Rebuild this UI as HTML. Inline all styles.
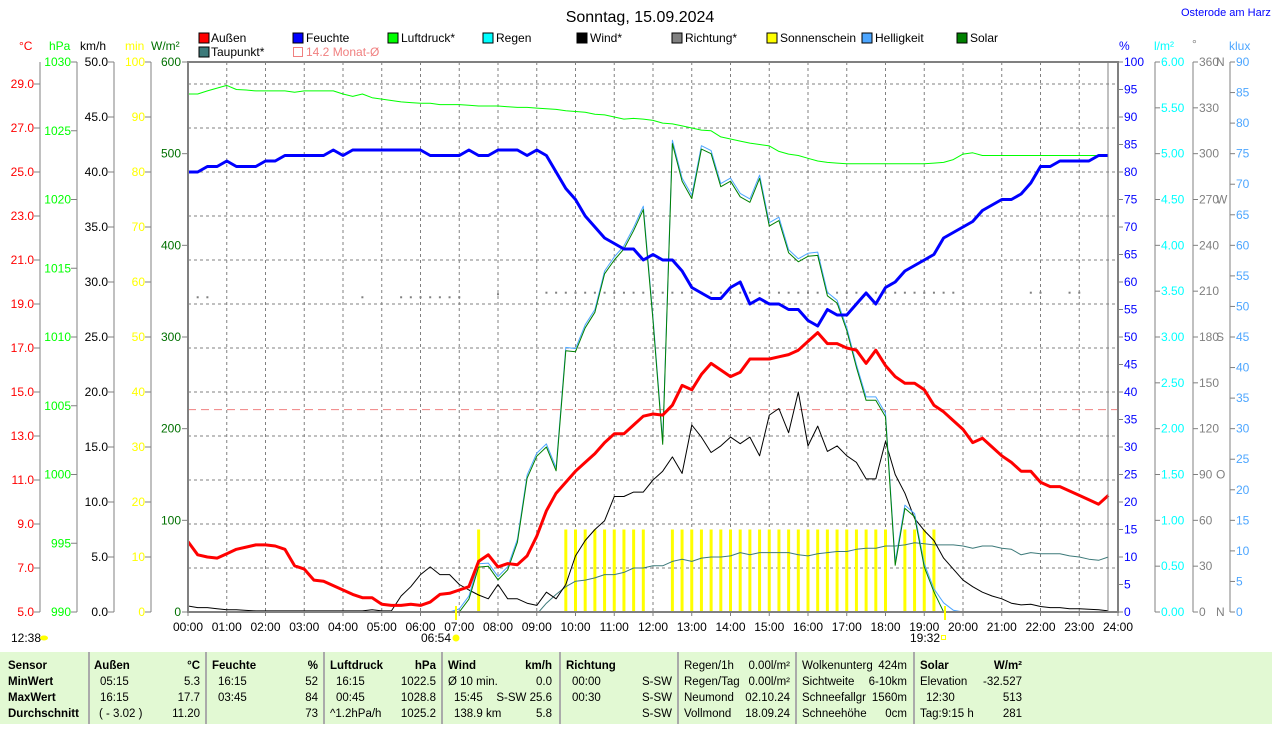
<!DOCTYPE html>
<html><head><meta charset="utf-8">
<style>
html,body{margin:0;padding:0;background:#fff;}
body{width:1274px;height:724px;overflow:hidden;font-family:"Liberation Sans",Arial,sans-serif;}
svg text{font-family:"Liberation Sans",Arial,sans-serif;}
</style></head>
<body>
<svg id="chart" width="1274" height="724" viewBox="0 0 1274 724" xmlns="http://www.w3.org/2000/svg">
  <rect x="0" y="0" width="1274" height="724" fill="#fff"/>
  <text x="640" y="22" font-size="16" text-anchor="middle" fill="#000">Sonntag, 15.09.2024</text>
  <text x="1181" y="16" font-size="11" fill="#0000ff">Osterode am Harz</text>

  <g font-size="12">
    <g><rect x="199" y="33" width="10" height="10" fill="#ff0000" stroke="#000"/><text x="211" y="42">Außen</text></g>
    <g><rect x="293" y="33" width="10" height="10" fill="#0000ff" stroke="#000"/><text x="306" y="42">Feuchte</text></g>
    <g><rect x="388" y="33" width="10" height="10" fill="#00ff00" stroke="#000"/><text x="401" y="42">Luftdruck*</text></g>
    <g><rect x="483" y="33" width="10" height="10" fill="#00ffff" stroke="#000"/><text x="496" y="42">Regen</text></g>
    <g><rect x="577" y="33" width="10" height="10" fill="#000" stroke="#000"/><text x="590" y="42">Wind*</text></g>
    <g><rect x="672" y="33" width="10" height="10" fill="#808080" stroke="#000"/><text x="685" y="42">Richtung*</text></g>
    <g><rect x="767" y="33" width="10" height="10" fill="#ffff00" stroke="#000"/><text x="780" y="42">Sonnenschein</text></g>
    <g><rect x="862" y="33" width="10" height="10" fill="#4da6ff" stroke="#000"/><text x="875" y="42">Helligkeit</text></g>
    <g><rect x="957" y="33" width="10" height="10" fill="#008000" stroke="#000"/><text x="970" y="42">Solar</text></g>
    <g><rect x="199" y="47" width="10" height="10" fill="#3d7a7a" stroke="#000"/><text x="211" y="56">Taupunkt*</text></g>
    <g><rect x="293.5" y="47.5" width="9" height="9" fill="none" stroke="#f08080"/><text x="306" y="56" fill="#f08080">14.2 Monat-Ø</text></g>
  </g>

  <g font-size="12">
    <text x="19" y="50" fill="#ff0000">°C</text>
    <text x="49" y="50" fill="#00ff00">hPa</text>
    <text x="80" y="50" fill="#000">km/h</text>
    <text x="125" y="50" fill="#ffff00">min</text>
    <text x="151" y="50" fill="#007000">W/m²</text>
    <text x="1119" y="50" fill="#0000ff">%</text>
    <text x="1154" y="50" fill="#00ffff">l/m²</text>
    <text x="1192" y="48" fill="#808080">°</text>
    <text x="1229" y="50" fill="#4da6ff">klux</text>
  </g>

  <g id="grid"></g>
  <g id="axes" font-size="12"></g>
  <g id="series"></g>

  <rect x="188" y="62" width="930" height="550" fill="none" stroke="#808080" stroke-width="2"/>
  <line x1="1108" y1="62" x2="1108" y2="612" stroke="#808080" stroke-width="1"/>

  <g font-size="12">
    <text x="11" y="642">12:38</text>
    <ellipse cx="44" cy="638" rx="4" ry="2.5" fill="#ffff00"/>
    <text x="421" y="642">06:54</text>
    <circle cx="456" cy="638" r="3.5" fill="#ffff00"/>
    <line x1="456" y1="606" x2="456" y2="620" stroke="#ffff00" stroke-width="2"/>
    <text x="910" y="642">19:32</text>
    <rect x="941.5" y="635.5" width="4" height="4" fill="none" stroke="#ffff00"/>
    <line x1="945" y1="606" x2="945" y2="620" stroke="#ffff00" stroke-width="2"/>
  </g>
</svg>

<div style="position:absolute;left:0;top:652px;width:1272px;height:72px;background:#e2f9d3;font-size:11.5px;">
  <div style="position:absolute;left:88px;top:0;width:2px;height:72px;background:#aaa"></div>
  <div style="position:absolute;left:205px;top:0;width:2px;height:72px;background:#aaa"></div>
  <div style="position:absolute;left:323px;top:0;width:2px;height:72px;background:#aaa"></div>
  <div style="position:absolute;left:441px;top:0;width:2px;height:72px;background:#aaa"></div>
  <div style="position:absolute;left:559px;top:0;width:2px;height:72px;background:#aaa"></div>
  <div style="position:absolute;left:677px;top:0;width:2px;height:72px;background:#aaa"></div>
  <div style="position:absolute;left:795px;top:0;width:2px;height:72px;background:#aaa"></div>
  <div style="position:absolute;left:913px;top:0;width:2px;height:72px;background:#aaa"></div>
  <div id="tbl"></div>
</div>

<script>
// ---- data (15-minute steps, 00:00 .. 23:45) ----
const hourLabels = ["00:00","01:00","02:00","03:00","04:00","05:00","06:00","07:00","08:00","09:00","10:00","11:00","12:00","13:00","14:00","15:00","16:00","17:00","18:00","19:00","20:00","21:00","22:00","23:00","24:00"];
const tempC = [8.2,7.6,7.5,7.45,7.65,7.85,7.95,8.05,8.05,8.0,7.85,7.1,
6.95,6.45,6.4,6.2,6.0,5.8,5.65,5.65,5.35,5.3,5.3,5.35,
5.3,5.45,5.8,5.85,6.0,6.15,7.3,7.6,7.05,7.2,7.15,7.55,
8.45,9.6,10.4,10.9,11.4,11.8,12.2,12.7,13.1,13.1,13.5,13.9,
14.0,13.95,14.4,15.3,15.1,15.8,16.3,16.0,15.7,15.9,16.5,16.5,
16.5,16.6,16.7,16.9,17.3,17.7,17.2,17.2,17.0,16.9,16.3,16.9,
16.2,15.7,15.4,15.4,15.1,14.4,14.1,13.7,13.3,12.7,12.9,12.5,
12.1,11.8,11.4,11.4,10.9,10.7,10.7,10.5,10.3,10.1,9.9,10.3];
const humidity = [80,80,81,81,82,81,81,81,82,82,83,83,
83,83,83,84,83,84,84,84,84,84,84,84,
84,83,83,83,83,84,83,83,84,84,84,83,
84,83,80,77,75,72,70,68,67,66,66,64,
65,64,64,62,59,58,57,57,59,60,56,57,
56,56,55,55,53,52,55,54,54,56,58,56,
59,60,62,63,64,65,68,69,70,71,73,74,
75,75,76,78,81,81,82,82,82,82,83,83];
const pressure = [1027.67,1027.67,1027.9,1028.1,1028.3,1028.0,1027.96,1027.9,1027.9,1027.9,1027.9,1027.8,
1027.9,1027.9,1027.9,1027.9,1027.67,1027.5,1027.67,1027.4,1027.3,1027.2,1027.1,1027.05,
1027.0,1027.0,1026.9,1026.9,1026.9,1026.85,1026.8,1026.8,1026.8,1026.75,1026.7,1026.7,
1026.65,1026.6,1026.55,1026.45,1026.4,1026.35,1026.2,1026.15,1026.0,1025.85,1025.9,1025.85,
1025.75,1025.56,1025.5,1025.35,1025.2,1025.05,1025.0,1024.55,1024.4,1024.25,1024.1,1024.0,
1023.9,1023.5,1023.3,1023.2,1023.0,1022.8,1022.7,1022.65,1022.6,1022.6,1022.6,1022.6,
1022.6,1022.6,1022.6,1022.6,1022.6,1022.65,1022.7,1022.9,1023.3,1023.4,1023.2,1023.2,
1023.2,1023.2,1023.2,1023.2,1023.2,1023.2,1023.2,1023.2,1023.2,1023.2,1023.2,1023.2];
const solar = [0,0,0,0,0,0,0,0,0,0,0,0,
0,0,0,0,0,0,0,0,0,0,0,0,
0,0,0,0,0,14,49,50,35,46,76,146,
170,180,154,285,284,310,327,369,384,396,416,439,
318,183,511,470,451,505,500,464,470,453,447,473,
421,427,392,382,388,389,345,337,307,267,231,231,
213,51,113,104,49,22,0,0,0,0,0,0,
0,0,0,0,0,0,0,0,0,0,0,0];
const helligkeit = [0,0,0,0,0,0,0,0,0,0,0,0,
0,0,0,0,0,0,0,0,0,0,0,0,
0,0,0,0,0.5,2.6,7.9,8,5.8,7.4,11.9,22.4,
26,27.5,23.6,43.3,43.1,47,49.5,55.8,58.1,59.9,62.9,66.4,
48.2,28,77.2,71,68.2,76.3,75.5,70.1,71,68.5,67.6,71.5,
63.7,64.6,59.3,57.8,58.7,58.9,52.3,51,46.5,40.5,35.2,35.2,
32.5,8.2,17.5,16.1,7.9,3.8,1.5,0.3,0,0,0,0,
0,0,0,0,0,0,0,0,0,0,0,0];
const wind = [0.55,0.4,0.4,0.3,0.2,0.2,0.15,0.1,0.1,0.1,0.1,0.1,
0.1,0.1,0.1,0.1,0.1,0.1,0.1,0.2,0.1,0.1,1.45,2.3,
3.4,4.1,3.4,3.4,2.5,2.0,1.55,1.2,2.5,1.2,1.2,0.8,
0.6,1.8,1.2,2.5,5.1,6.5,7.5,8.3,10.5,10.5,10.9,10.9,
12.0,12.8,14.1,12.6,17.0,15.9,14.5,15.1,15.9,15.3,15.9,14.2,
17.9,18.5,16.3,20.0,15.1,16.9,14.6,15.1,14.2,13.6,12.1,12.1,
15.5,12.5,10.8,8.5,7.4,6.5,4.9,3.9,2.9,2.3,1.8,1.45,
1.2,0.8,0.65,0.7,0.5,0.4,0.4,0.3,0.3,0.25,0.2,0.1];
const dewpoint = [4.6,4.6,4.6,4.6,4.6,4.6,4.6,4.6,4.6,4.6,4.6,4.6,
4.6,4.6,4.6,4.6,4.6,4.6,4.6,4.6,4.6,4.6,4.6,4.6,
4.6,4.6,4.6,4.6,4.6,4.6,4.6,4.6,4.6,4.6,4.6,4.6,
4.9,5.4,5.8,6.15,6.4,6.45,6.55,6.7,6.7,6.8,7.0,7.0,
7.1,7.1,7.3,7.4,7.3,7.45,7.5,7.5,7.55,7.7,7.6,7.7,
7.7,7.7,7.7,7.6,7.55,7.65,7.7,7.75,7.75,7.85,7.9,7.9,
8.0,8.0,8.05,8.15,8.1,8.05,8.05,8.05,8.0,7.9,8.0,8.0,
7.9,7.85,7.6,7.7,7.65,7.65,7.65,7.55,7.5,7.4,7.35,7.5];
const sunshine = [0,0,0,0,0,0,0,0,0,0,0,0,
0,0,0,0,0,0,0,0,0,0,0,0,
0,0,0,0,0,0,15,0,0,0,0,0,
0,0,0,15,15,15,15,15,15,15,15,15,
0,0,15,15,15,15,15,15,15,15,15,15,
15,15,15,15,15,15,15,15,15,15,15,15,
15,0,15,15,15,15,0,0,0,0,0,0,
0,0,0,0,0,0,0,0,0,0,0,0];
const direction = [null,206,206,null,null,null,null,null,null,null,null,null,
null,null,null,null,null,null,206,null,null,null,206,206,
206,206,206,206,206,null,null,null,208,null,null,null,
null,209,209,209,209,209,209,209,209,209,209,209,
209,209,209,209,209,209,209,209,209,209,209,209,
209,209,209,209,209,209,209,209,209,209,209,209,
209,209,209,209,209,209,209,209,null,null,null,null,
null,null,null,209,209,null,null,209,209,null,null,null];
const monthAvg = 14.2;
const tickC = [5,7,9,11,13,15,17,19,21,23,25,27,29];
const tickHpa = [990,995,1000,1005,1010,1015,1020,1025,1030];
const tickKmh = [0,5,10,15,20,25,30,35,40,45,50];
const tickMin = [0,10,20,30,40,50,60,70,80,90,100];
const tickW = [0,100,200,300,400,500,600];
const tickPct = [0,5,10,15,20,25,30,35,40,45,50,55,60,65,70,75,80,85,90,95,100];
const tickRain = [0,0.5,1,1.5,2,2.5,3,3.5,4,4.5,5,5.5,6];
const tickDeg = [0,30,60,90,120,150,180,210,240,270,300,330,360];
const degNames = {0:"N",90:"O",180:"S",270:"W",360:"N"};
const tickKlux = [0,5,10,15,20,25,30,35,40,45,50,55,60,65,70,75,80,85,90];

// ---- scales ----
const X0=188, X1=1118, Y0=612, Y1=62;
const xH = h => X0 + (X1-X0)*h/24;
const xI = i => xH(i*0.25);
const lin = (a,b) => v => Y0 - (v-a)/(b-a)*(Y0-Y1);
const yC = lin(5,30), yHpa = lin(990,1030), yKmh = lin(0,50), yMin = lin(0,100),
      yW = lin(0,600), yPct = lin(0,100), yRain = lin(0,6), yDeg = lin(0,360), yKlux = lin(0,90);

const NS="http://www.w3.org/2000/svg";
function mk(tag, attrs, parent){const e=document.createElementNS(NS,tag);for(const k in attrs)e.setAttribute(k,attrs[k]);parent.appendChild(e);return e;}
const grid=document.getElementById('grid'), axes=document.getElementById('axes'), series=document.getElementById('series');

const defs=mk('defs',{},document.getElementById('chart'));
const cp=mk('clipPath',{id:'plotclip'},defs);
mk('rect',{x:188,y:62,width:930,height:550},cp);
series.setAttribute('clip-path','url(#plotclip)');

for(let k=0;k<12;k++){const y=yC(29-2*k);
  const l=mk('line',{x1:X0,x2:X1,y1:y,y2:y,stroke:'#808080','stroke-dasharray':'3,3'},grid);
  
  }
for(let h=1;h<24;h++){const x=xH(h);
  const l=mk('line',{x1:x,x2:x,y1:Y1,y2:Y0,stroke:'#808080','stroke-dasharray':'3,3'},grid);
  
  }

hourLabels.forEach((s,h)=>{const t=mk('text',{x:xH(h),y:631,'text-anchor':'middle',fill:'#000'},axes);t.textContent=s;
  
  
  mk('line',{x1:xH(h),x2:xH(h),y1:612,y2:616,stroke:'#808080'},axes);});

function leftAxis(ax, ticks, sc, color, fmt, name){
  const l=mk('line',{x1:ax,x2:ax,y1:Y1,y2:Y0,stroke:'#808080'},axes);
  
  
  ticks.forEach(v=>{const y=sc(v);mk('line',{x1:ax-6,x2:ax,y1:y,y2:y,stroke:'#808080'},axes);
    const t=mk('text',{x:ax-6,y:y+4,'text-anchor':'end',fill:color},axes);t.textContent=fmt(v);
    
    });
}
leftAxis(40,tickC.filter(v=>v<=29),yC,'#ff0000',v=>v.toFixed(1),'axis-celsius');
leftAxis(77,tickHpa,yHpa,'#00ff00',v=>String(v),'axis-hpa');
leftAxis(114,tickKmh,yKmh,'#000',v=>v.toFixed(1),'axis-kmh');
leftAxis(151,tickMin,yMin,'#ffff00',v=>String(v),'axis-min');
tickW.forEach(v=>{const y=yW(v);mk('line',{x1:182,x2:188,y1:y,y2:y,stroke:'#808080'},axes);
  const t=mk('text',{x:181,y:y+4,'text-anchor':'end',fill:'#007000'},axes);t.textContent=String(v);
  
  });

function rightAxis(ax, ticks, sc, color, fmt, name, drawLine){
  if(drawLine){const l=mk('line',{x1:ax,x2:ax,y1:Y1,y2:Y0,stroke:'#808080'},axes);
    
    }
  ticks.forEach(v=>{const y=sc(v);mk('line',{x1:ax,x2:ax+5,y1:y,y2:y,stroke:'#808080'},axes);
    const t=mk('text',{x:ax+6,y:y+4,fill:color},axes);t.textContent=fmt(v);
    
    });
}
rightAxis(1118,tickPct,yPct,'#0000ff',v=>String(v),'axis-percent',false);
rightAxis(1155,tickRain,yRain,'#00ffff',v=>v.toFixed(2),'axis-rain',true);
rightAxis(1193,tickDeg,yDeg,'#808080',v=>String(v),'axis-direction',true);
tickDeg.forEach(v=>{if(degNames[v]!==undefined){const t=mk('text',{x:1216,y:yDeg(v)+4,fill:'#808080'},axes);t.textContent=degNames[v];
  
  }});
rightAxis(1230,tickKlux,yKlux,'#4da6ff',v=>String(v),'axis-klux',true);

function path(vals, sc, color, w, name){
  let d='';vals.forEach((v,i)=>{if(v===null)return;d+=(d?'L':'M')+xI(i).toFixed(1)+','+sc(v).toFixed(1);});
  const p=mk('path',{d:d,fill:'none',stroke:color,'stroke-width':w,'stroke-linejoin':'round'},series);
  
  
}
sunshine.forEach((v,i)=>{if(!v)return;const y=yMin(v);
  const r=mk('rect',{x:xI(i)-1.5,y:y,width:3,height:Y0-y,fill:'#ffff00'},series);
  
  });
const ma=mk('line',{x1:X0,x2:X1,y1:yC(monthAvg),y2:yC(monthAvg),stroke:'#f08080','stroke-dasharray':'8,5'},series);


direction.forEach((v,i)=>{if(v===null)return;
  const r=mk('rect',{x:xI(i)-1,y:yDeg(v)-1,width:2,height:2,fill:'#808080'},series);
  
  });
path(dewpoint,yC,'#3d7a7a',1,'dewpoint-line');
path(wind,yKmh,'#000',1,'wind-line');
path(helligkeit,yKlux,'#4da6ff',1,'brightness-line');
path(solar,yW,'#008000',1,'solar-line');
path(pressure,yHpa,'#00ff00',1,'pressure-line');
path(tempC,yC,'#ff0000',3,'temperature-line');
path(humidity,yPct,'#0000ff',3,'humidity-line');

const cells = [
 [8,"Sensor",true,"l",0],[8,"MinWert",true,"l",1],[8,"MaxWert",true,"l",2],[8,"Durchschnitt",true,"l",3],
 [94,"Außen",true,"l",0],[200,"°C",true,"r",0],[100,"05:15",false,"l",1],[200,"5.3",false,"r",1],[100,"16:15",false,"l",2],[200,"17.7",false,"r",2],[99,"( - 3.02 )",false,"l",3],[200,"11.20",false,"r",3],
 [212,"Feuchte",true,"l",0],[318,"%",true,"r",0],[218,"16:15",false,"l",1],[318,"52",false,"r",1],[218,"03:45",false,"l",2],[318,"84",false,"r",2],[318,"73",false,"r",3],
 [330,"Luftdruck",true,"l",0],[436,"hPa",true,"r",0],[336,"16:15",false,"l",1],[436,"1022.5",false,"r",1],[336,"00:45",false,"l",2],[436,"1028.8",false,"r",2],[330,"^1.2hPa/h",false,"l",3],[436,"1025.2",false,"r",3],
 [448,"Wind",true,"l",0],[552,"km/h",true,"r",0],[448,"Ø 10 min.",false,"l",1],[552,"0.0",false,"r",1],[454,"15:45",false,"l",2],[552,"S-SW 25.6",false,"r",2],[454,"138.9 km",false,"l",3],[552,"5.8",false,"r",3],
 [566,"Richtung",true,"l",0],[572,"00:00",false,"l",1],[672,"S-SW",false,"r",1],[572,"00:30",false,"l",2],[672,"S-SW",false,"r",2],[672,"S-SW",false,"r",3],
 [684,"Regen/1h",false,"l",0],[790,"0.00l/m²",false,"r",0],[684,"Regen/Tag",false,"l",1],[790,"0.00l/m²",false,"r",1],[684,"Neumond",false,"l",2],[790,"02.10.24",false,"r",2],[684,"Vollmond",false,"l",3],[790,"18.09.24",false,"r",3],
 [802,"Wolkenunterg",false,"l",0],[907,"424m",false,"r",0],[802,"Sichtweite",false,"l",1],[907,"6-10km",false,"r",1],[802,"Schneefallgr",false,"l",2],[907,"1560m",false,"r",2],[802,"Schneehöhe",false,"l",3],[907,"0cm",false,"r",3],
 [920,"Solar",true,"l",0],[1022,"W/m²",true,"r",0],[920,"Elevation",false,"l",1],[1022,"-32.527",false,"r",1],[926,"12:30",false,"l",2],[1022,"513",false,"r",2],[920,"Tag:9:15 h",false,"l",3],[1022,"281",false,"r",3]
];
const tbl=document.getElementById('tbl');
const rowY=[7,23,39,55];
cells.forEach(c=>{const d=document.createElement('div');
  d.textContent=c[1];
  
  
  let st='position:absolute;top:'+rowY[c[4]]+'px;white-space:nowrap;line-height:14px;'+(c[2]?'font-weight:bold;':'');
  if(c[3]==='l') st+='left:'+c[0]+'px;'; else st+='right:'+(1272-c[0])+'px;';
  d.setAttribute('style',st);tbl.appendChild(d);});
</script>
</body></html>
